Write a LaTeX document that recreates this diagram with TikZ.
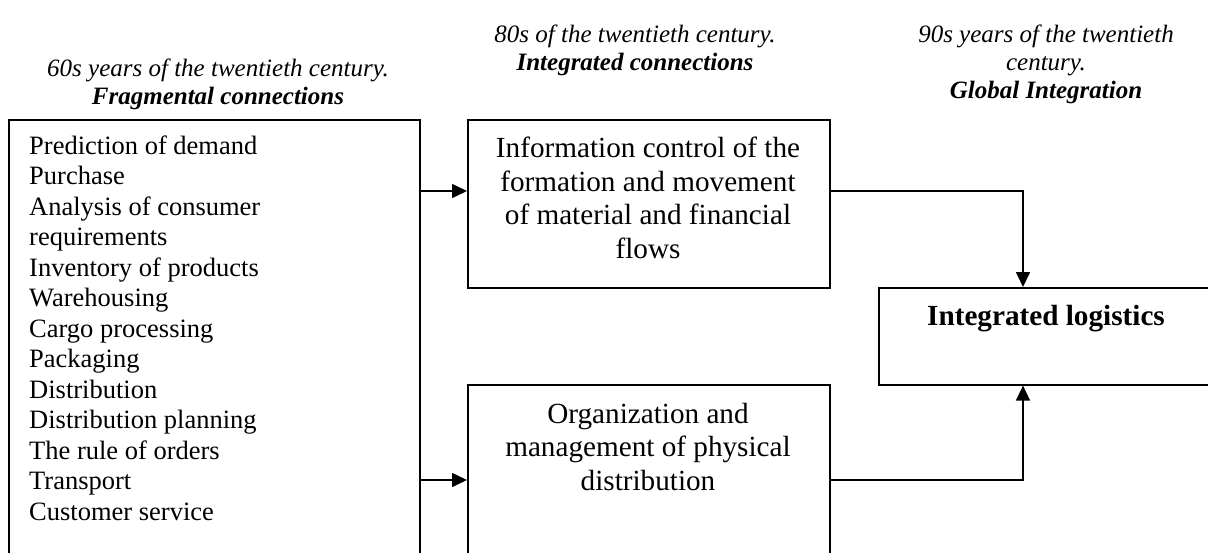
\documentclass[tikz,border=0pt]{standalone}
\usepackage{fontspec}
\setmainfont{Liberation Serif}
\usetikzlibrary{arrows.meta}
\begin{document}
\begin{tikzpicture}[x=1pt,y=-1pt,
  frame/.style={draw=black, line width=1.6pt, inner sep=0pt, anchor=north west},
  link/.style={line width=1.6pt, -{Triangle[length=15pt,width=14pt]}},
  titletext/.style={align=center, inner sep=0pt, font=\fontsize{25}{28}\selectfont\itshape},
  listtext/.style={anchor=base west, inner sep=0pt, font=\fontsize{26.5}{30.5}\selectfont},
  boxtext/.style={align=center, inner sep=0pt, font=\fontsize{29.2}{33.6}\selectfont}
]
\useasboundingbox (0,0) rectangle (1208,552);
\clip (0,0) rectangle (1208,552);

% period headings
\node[titletext] (t60) at (218,84) {60s years of the twentieth century.\\\textbf{Fragmental connections}};
\node[titletext] (t80) at (635,50) {80s of the twentieth century.\\\textbf{Integrated connections}};
\node[titletext] (t90) at (1046,64) {90s years of the twentieth\\century.\\\textbf{Global Integration}};

% boxes (the lower ones run past the bottom edge)
\node[frame, minimum width=411pt, minimum height=460pt] (src) at (8,119) {};
\node[frame, minimum width=362pt, minimum height=168pt] (info) at (467,119) {};
\node[frame, minimum width=362pt, minimum height=190pt] (org) at (467,384) {};
\node[frame, minimum width=336pt, minimum height=97pt] (integ) at (878,287) {};

% list of separate functions
\foreach \t [count=\i from 0] in {Prediction of demand, Purchase, Analysis of consumer, requirements, Inventory of products, Warehousing, Cargo processing, Packaging, Distribution, Distribution planning, The rule of orders, Transport, Customer service}
  \node[listtext] (item\i) at (29,{154+30.5*\i}) {\t};

% box captions
\node[boxtext] (infotext) at (648,198) {Information control of the\\formation and movement\\of material and financial\\flows};
\node[boxtext] (orgtext) at (648,447) {Organization and\\management of physical\\distribution};
\node[boxtext, font=\fontsize{29.2}{33.6}\selectfont\bfseries] (integtext) at (1046,319) {Integrated logistics};

% connector levels
\coordinate (r1) at (0,191);
\coordinate (r2) at (0,480);
\coordinate (c1) at (1023,0);

\draw[link] (src.east |- r1) -- (info.west |- r1);
\draw[link] (src.east |- r2) -- (org.west |- r2);
\draw[link] (info.east |- r1) -| (integ.north -| c1);
\draw[link] (org.east |- r2) -| (integ.south -| c1);
\end{tikzpicture}
\end{document}
